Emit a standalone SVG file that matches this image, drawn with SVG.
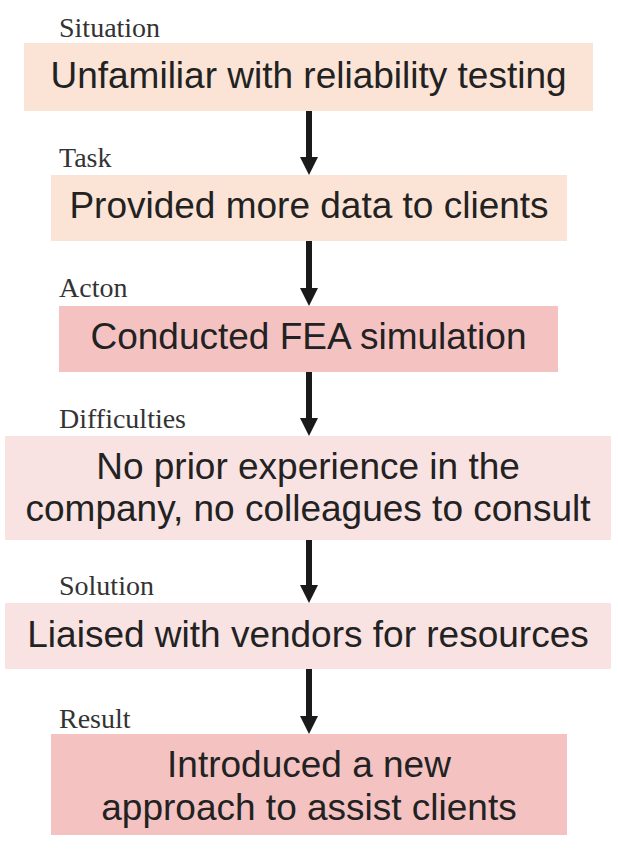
<svg xmlns="http://www.w3.org/2000/svg" width="618" height="854" viewBox="0 0 618 854">
  <style>
    .lbl { font-family: "Liberation Serif", "Times New Roman", serif; font-size: 28px; fill: #333333; }
    .txt { font-family: "Liberation Sans", Arial, sans-serif; font-size: 37px; fill: #222222; text-anchor: middle; }
    .peach { fill: #FBE4D6; }
    .pink { fill: #F5C2C2; }
    .light { fill: #F8E2E2; }
    .arrow { stroke: #1a1a1a; stroke-width: 6; fill: none; marker-end: url(#head); }
  </style>
  <defs>
    <marker id="head" markerUnits="userSpaceOnUse" markerWidth="18" markerHeight="18" refX="0" refY="9" orient="auto" viewBox="0 0 18 18">
      <path d="M0,0 L18,9 L0,18 Z" fill="#1a1a1a"/>
    </marker>
  </defs>
  <rect width="618" height="854" fill="#ffffff"/>

  <g id="situation">
    <text class="lbl" x="59" y="36.5">Situation</text>
    <rect class="peach" x="24" y="43" width="569" height="68"/>
    <text class="txt" x="308.5" y="87.5">Unfamiliar with reliability testing</text>
  </g>

  <g id="task">
    <text class="lbl" x="59" y="166.5">Task</text>
    <rect class="peach" x="51" y="175" width="516" height="66"/>
    <text class="txt" x="309" y="218">Provided more data to clients</text>
  </g>

  <g id="action">
    <text class="lbl" x="59" y="296.5">Acton</text>
    <rect class="pink" x="59" y="306" width="499" height="66"/>
    <text class="txt" x="308.5" y="348.5">Conducted FEA simulation</text>
  </g>

  <g id="difficulties">
    <text class="lbl" x="59" y="428">Difficulties</text>
    <rect class="light" x="5" y="436" width="606" height="104"/>
    <text class="txt" x="308" y="479">No prior experience in the</text>
    <text class="txt" x="308" y="521">company, no colleagues to consult</text>
  </g>

  <g id="solution">
    <text class="lbl" x="59" y="595">Solution</text>
    <rect class="light" x="5" y="603" width="606" height="66"/>
    <text class="txt" x="308" y="647">Liaised with vendors for resources</text>
  </g>

  <g id="result">
    <text class="lbl" x="59" y="728">Result</text>
    <rect class="pink" x="51" y="734" width="516" height="101"/>
    <text class="txt" x="309" y="777">Introduced a new</text>
    <text class="txt" x="309" y="820">approach to assist clients</text>
  </g>

  <g id="connectors">
    <line class="arrow" x1="309" y1="111" x2="309" y2="157"/>
    <line class="arrow" x1="309" y1="241" x2="309" y2="288"/>
    <line class="arrow" x1="309" y1="372" x2="309" y2="418"/>
    <line class="arrow" x1="309" y1="540" x2="309" y2="585"/>
    <line class="arrow" x1="309" y1="669" x2="309" y2="716"/>
  </g>
</svg>
